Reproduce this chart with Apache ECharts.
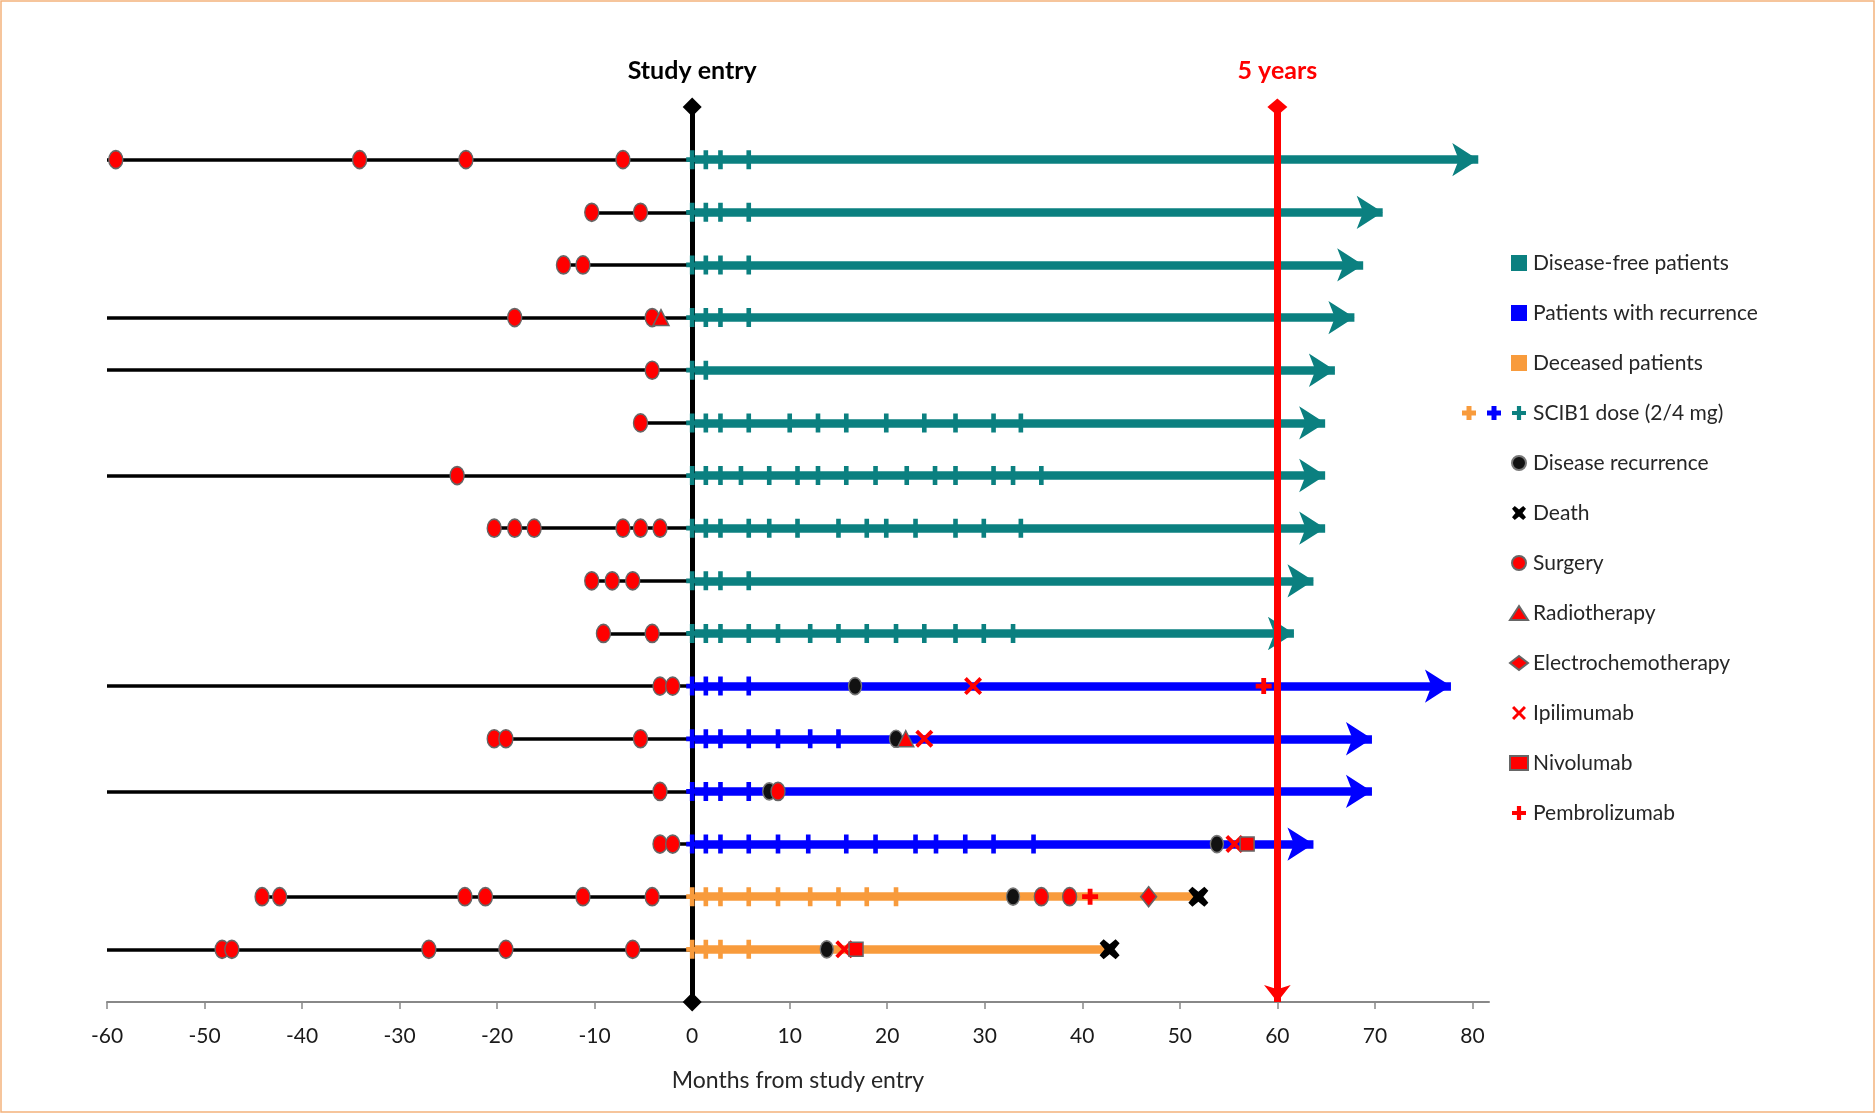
<!DOCTYPE html>
<html>
<head>
<meta charset="utf-8">
<title>SCIB1 patient timelines</title>
<script src="https://cdn.jsdelivr.net/npm/echarts@6/dist/echarts.min.js"></script>
<style>
html,body{margin:0;padding:0;background:#fff;}
#chart{width:1875px;height:1113px;}
</style>
</head>
<body>
<div id="chart"></div>
<script>
// one entry per patient, top row first; months from study entry
var patientGroup = ['free','free','free','free','free','free','free','free','free','free','rec','rec','rec','rec','dead','dead'];
var historyStart = [-60, -10.3, -13.2, -60, -60, -5.3, -60, -20.3, -10.3, -9.1, -60, -20.3, -60, -3.3, -44.1, -60];
var followUpEnd = [80.6, 70.8, 68.8, 67.9, 65.9, 64.9, 64.9, 64.9, 63.7, 61.7, 77.8, 69.7, 69.7, 63.7, 51.9, 42.8];

var doses = [
	[0,1.4,2.9,5.8],
	[0,1.4,2.9,5.8],
	[0,1.4,2.9,5.8],
	[0,1.4,2.9,5.8],
	[0,1.4],
	[0,1.4,2.9,5.8,10,12.9,15.8,19.9,23.8,27,30.9,33.7],
	[0,1.4,2.9,5,7.9,10.8,12.9,15.8,18.8,22,24.9,27,30.9,32.9,35.8],
	[0,1.4,2.9,5.8,7.9,10.8,15,17.9,19.9,22.9,27,29.9,33.7],
	[0,1.4,2.9,5.8],
	[0,1.4,2.9,5.8,8.8,12.1,15,17.9,20.9,23.8,27,29.9,32.9],
	[0,1.4,2.9,5.8],
	[0,1.4,2.9,5.8,8.8,12.1,15],
	[0,1.4,2.9,5.8],
	[0,1.4,2.9,5.8,8.8,11.9,15.8,18.8,22.9,25,28,30.9,35],
	[0,1.4,2.9,5.8,8.8,12.1,15,17.9,20.9],
	[0,1.4,2.9,5.8]
];
var surgery = [
	[-59.1,-34.1,-23.2,-7.1],
	[-10.3,-5.3],
	[-13.2,-11.2],
	[-18.2,-4.1],
	[-4.1],
	[-5.3],
	[-24.1],
	[-20.3,-18.2,-16.2,-7.1,-5.3,-3.3],
	[-10.3,-8.2,-6.1],
	[-9.1,-4.1],
	[-3.3,-2.0],
	[-20.3,-19.1,-5.3],
	[-3.3,8.8],
	[-3.3,-2.0],
	[-44.1,-42.3,-23.3,-21.2,-11.2,-4.1,35.8,38.7],
	[-48.2,-47.2,-27.0,-19.1,-6.1]
];
var recurrence = [[],[],[],[],[],[],[],[],[],[],[16.7],[20.9],[7.9],[53.8],[32.9],[13.8]];
var radiotherapy = [[],[],[],[-3.2],[],[],[],[],[],[],[],[21.9],[],[],[],[]];
var electrochemo = [[],[],[],[],[],[],[],[],[],[],[],[],[],[],[46.8],[]];
var ipilimumab = [[],[],[],[],[],[],[],[],[],[],[28.8],[23.8],[],[55.6],[],[15.6]];
var nivolumab = [[],[],[],[],[],[],[],[],[],[],[],[],[],[56.9],[],[16.8]];
var pembrolizumab = [[],[],[],[],[],[],[],[],[],[],[58.6],[],[],[],[40.8],[]];
var death = [[],[],[],[],[],[],[],[],[],[],[],[],[],[],[51.9],[42.8]];
var xTicks = [-60,-50,-40,-30,-20,-10,0,10,20,30,40,50,60,70,80];

var groupColor = {free:'#0B8080', rec:'#0000FF', dead:'#F89B3C'};
var groupName = {free:'Disease-free patients', rec:'Patients with recurrence', dead:'Deceased patients'};
var font = 'Lato, "Open Sans", sans-serif';

var plusPath = 'path://M7,0H13V7H20V13H13V20H7V13H0V7H7Z';
var dosePath = 'path://M4,0H9V6H13V10H9V16H4V10H0V6H4Z';
var crossPath = 'path://M0,3L3,0L10,7L17,0L20,3L13,10L20,17L17,20L10,13L3,20L0,17L7,10Z';
var deathPath = 'path://M0,4L4,0L10,5L16,0L20,4L15,10L20,16L16,20L10,15L4,20L0,16L5,10Z';
var squarePath = 'path://M0,0H10V10H0Z';

function rowY(i){ return 16 - i; }

function points(list){
	var out=[];
	list.forEach(function(row,i){
		row.forEach(function(m){ out.push([m,rowY(i)]); });
	});
	return out;
}

function followLines(g){
	var out=[];
	patientGroup.forEach(function(pg,i){
		if(pg===g) out.push({coords:[[0,rowY(i)],[followUpEnd[i],rowY(i)]]});
	});
	return out;
}

var historyLines=historyStart.map(function(s,i){
	return {coords:[[s,rowY(i)],[0,rowY(i)]]};
});

var doseData=[];
doses.forEach(function(row,i){
	row.forEach(function(m){
		doseData.push({value:[m,rowY(i)], itemStyle:{color:groupColor[patientGroup[i]]}});
	});
});

function groupSeries(g){
	var arrow = g==='dead' ? 'none' : 'arrow';
	return {
		type:'lines', name:groupName[g], coordinateSystem:'cartesian2d', z:4,
		symbol:['none',arrow], symbolSize:[[25,26],[25,26]],
		lineStyle:{color:groupColor[g], width:8.5, opacity:1, curveness:0},
		itemStyle:{color:groupColor[g]},
		silent:true, animation:false,
		data:followLines(g)
	};
}

function eventSeries(name,list,symbol,size,color,border,z){
	return {
		type:'scatter', name:name, z:z, symbol:symbol, symbolSize:size,
		itemStyle:{color:color, borderColor:border||color, borderWidth:border?1.5:0, opacity:1},
		silent:true, animation:false,
		data:points(list)
	};
}

function plusGraphic(cx,cy,color){
	return {type:'group', x:cx, y:cy, children:[
		{type:'rect', shape:{x:-7,y:-2.5,width:14,height:5}, style:{fill:color}},
		{type:'rect', shape:{x:-2.5,y:-7,width:5,height:14}, style:{fill:color}}
	]};
}

var chart=echarts.init(document.getElementById('chart'));
chart.setOption({
	backgroundColor:'#fff',
	animation:false,
	grid:{left:107, right:386, top:107, bottom:111},
	xAxis:{
		type:'value', min:-60, max:81.7, interval:10,
		axisLine:{show:true, onZero:false, lineStyle:{color:'#888', width:2}},
		axisTick:{show:true, length:7, customValues:xTicks, lineStyle:{color:'#888', width:1.5}},
		axisLabel:{customValues:xTicks, fontSize:21, color:'#1a1a1a', margin:24, fontFamily:font},
		splitLine:{show:false},
		name:'Months from study entry', nameLocation:'middle', nameGap:67,
		nameTextStyle:{fontSize:23, color:'#262626', fontFamily:font}
	},
	yAxis:{type:'value', min:0, max:17, show:false},
	legend:{
		orient:'vertical', left:1504, top:247, itemWidth:18, itemHeight:14, itemGap:28,
		selectedMode:false,
		textStyle:{fontSize:21, color:'#262626', fontFamily:font, lineHeight:22},
		data:[
			{name:'Disease-free patients', icon:squarePath, itemStyle:{color:groupColor.free}},
			{name:'Patients with recurrence', icon:squarePath, itemStyle:{color:groupColor.rec}},
			{name:'Deceased patients', icon:squarePath, itemStyle:{color:groupColor.dead}},
			{name:'SCIB1 dose (2/4 mg)', icon:plusPath, itemStyle:{color:groupColor.free}},
			'Disease recurrence','Death','Surgery','Radiotherapy','Electrochemotherapy',
			'Ipilimumab','Nivolumab','Pembrolizumab'
		]
	},
	graphic:[
		{type:'rect', shape:{x:1,y:1,width:1873,height:1111}, style:{fill:null, stroke:'#F3B27C', lineWidth:1.5}, silent:true},
		plusGraphic(1469,413,groupColor.dead),
		plusGraphic(1494,413,groupColor.rec)
	],
	series:[
		{
			type:'lines', name:'History', coordinateSystem:'cartesian2d', z:2,
			lineStyle:{color:'#000', width:3.5, opacity:1, curveness:0},
			silent:true, animation:false, data:historyLines
		},
		{
			type:'scatter', name:'Study entry', data:[], z:3, silent:true,
			markLine:{
				silent:true, animation:false,
				symbol:['diamond','diamond'], symbolSize:[19,19],
				lineStyle:{color:'#000', width:5, type:'solid'},
				label:{show:true, position:'start', formatter:'Study entry', distance:24,
					fontSize:25, fontWeight:'bold', color:'#000', fontFamily:font},
				emphasis:{disabled:true},
				data:[[{coord:[0,17]},{coord:[0,0]}]]
			}
		},
		groupSeries('free'),
		groupSeries('rec'),
		groupSeries('dead'),
		{
			type:'scatter', name:'SCIB1 dose (2/4 mg)', z:5, symbol:dosePath, symbolSize:[12,19],
			symbolKeepAspect:false,
			itemStyle:{color:groupColor.free, opacity:1}, silent:true, animation:false,
			data:doseData
		},
		{
			type:'scatter', name:'5 years', data:[], z:6, silent:true,
			markLine:{
				silent:true, animation:false,
				symbol:['diamond','arrow'], symbolSize:[20,17],
				lineStyle:{color:'#FF0000', width:7, type:'solid'},
				label:{show:true, position:'start', formatter:'5 years', distance:24,
					fontSize:25, fontWeight:'bold', color:'#FF0000', fontFamily:font},
				emphasis:{disabled:true},
				data:[[{coord:[60,17]},{coord:[60,0]}]]
			}
		},
		eventSeries('Disease recurrence',recurrence,'circle',[13,17],'#111','#777',7),
		eventSeries('Surgery',surgery,'circle',[14,18],'#FF0000','#666',8),
		eventSeries('Radiotherapy',radiotherapy,'triangle',16,'#FF0000','#666',8),
		eventSeries('Electrochemotherapy',electrochemo,'diamond',[16,20],'#FF0000','#666',8),
		eventSeries('Ipilimumab',ipilimumab,crossPath,18,'#FF0000',null,9),
		eventSeries('Nivolumab',nivolumab,'rect',14,'#FF0000','#666',10),
		eventSeries('Pembrolizumab',pembrolizumab,plusPath,16,'#FF0000',null,9),
		eventSeries('Death',death,deathPath,20,'#000',null,10)
	]
});
</script>
</body>
</html>
